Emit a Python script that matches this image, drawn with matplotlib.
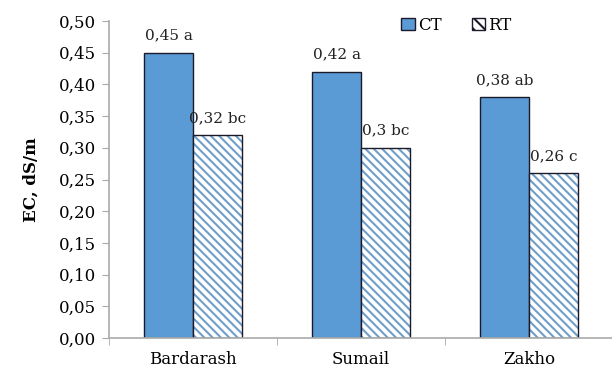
import matplotlib
matplotlib.use("Agg")
import matplotlib.pyplot as plt
import numpy as np

sites = ["Bardarash", "Sumail", "Zakho"]
ct_values = [0.45, 0.42, 0.38]
rt_values = [0.32, 0.30, 0.26]
ct_labels = ["0,45 a", "0,42 a", "0,38 ab"]
rt_labels = ["0,32 bc", "0,3 bc", "0,26 c"]
y_ticks = [0.00, 0.05, 0.10, 0.15, 0.20, 0.25, 0.30, 0.35, 0.40, 0.45, 0.50]

plt.rcParams["font.family"] = ["DejaVu Serif"]
plt.rcParams["hatch.linewidth"] = 1.5

fig = plt.figure(figsize=(6.12, 3.74), dpi=100)
ax = fig.add_axes([0.178, 0.096, 0.824, 0.848])

x = np.arange(len(sites))
w = 0.29
outline = "#1a1a2a"

ct = ax.bar(x - w / 2, ct_values, w, color="#5b9bd5", edgecolor=outline,
            linewidth=1.0, label="CT")
# hatch is drawn in the edge colour, so stripes and outline go in two passes
rt = ax.bar(x + w / 2, rt_values, w, color="white", edgecolor="#6f9ec8",
            linewidth=0, hatch="\\\\\\\\", label="RT")
ax.bar(x + w / 2, rt_values, w, fill=False, edgecolor=outline, linewidth=1.0)

for xi, v, s in zip(x - w / 2, ct_values, ct_labels):
    ax.text(xi, v + 0.016, s, ha="center", va="bottom", fontsize=11, color="#222222")
for xi, v, s in zip(x + w / 2, rt_values, rt_labels):
    ax.text(xi, v + 0.016, s, ha="center", va="bottom", fontsize=11, color="#222222")

ax.set_xlim(-0.5, 2.5)
ax.set_ylim(0, 0.5)
ax.set_yticks(y_ticks)
ax.set_yticklabels([f"{t:.2f}".replace(".", ",") for t in y_ticks], fontsize=12)
ax.set_xticks(x)
ax.set_xticklabels(sites, fontsize=12)
ax.set_xticks([-0.5, 0.5, 1.5, 2.5], minor=True)
ax.tick_params(axis="x", which="major", length=0, pad=9)
ax.tick_params(axis="x", which="minor", length=5, color="#aaaaaa")
ax.tick_params(axis="y", length=5, color="#aaaaaa", pad=4)

for side in ["top", "right"]:
    ax.spines[side].set_visible(False)
for side in ["left", "bottom"]:
    ax.spines[side].set_color("#aaaaaa")
    ax.spines[side].set_linewidth(1.2)

ax.set_ylabel("EC, dS/m", fontsize=12, fontweight="bold", labelpad=14)

leg_rt = plt.Rectangle((0, 0), 1, 1, facecolor="white", edgecolor=outline,
                       hatch="\\\\\\", linewidth=1.0)
ax.legend(handles=[ct, rt], loc="upper left", bbox_to_anchor=(0.55, 1.06),
          ncol=2, frameon=False, fontsize=12, handlelength=0.8, handleheight=0.8,
          handletextpad=0.2, columnspacing=1.8)
for h in ax.get_legend().legend_handles:
    h.set_edgecolor(outline)
    h.set_linewidth(1.0)
ax.get_legend().legend_handles[1].set_hatch("\\\\\\")

fig.savefig("out.png", dpi=100)
